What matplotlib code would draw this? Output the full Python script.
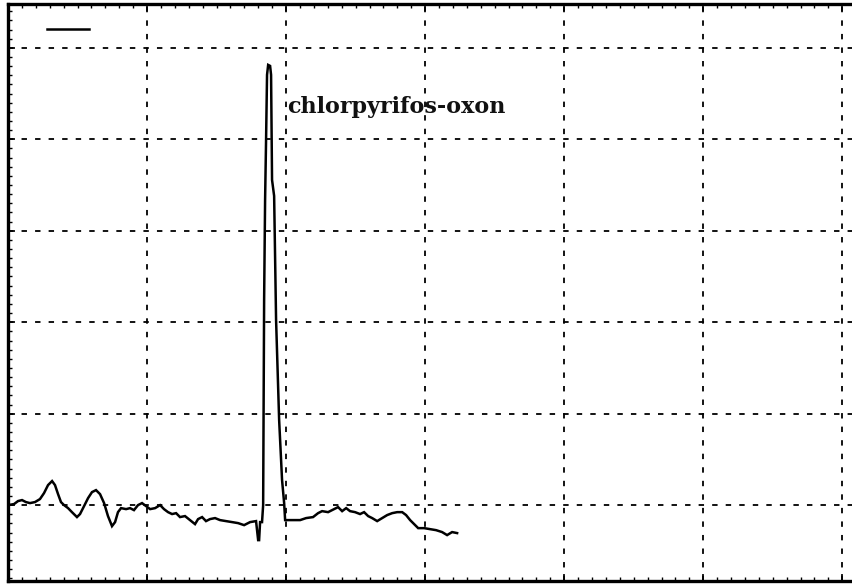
import numpy as np
import matplotlib
matplotlib.use('Agg')
import matplotlib.pyplot as plt
from matplotlib.ticker import MultipleLocator

# retention time (grid units) and detector response (grid units)
t=[0.000,0.043,0.072,0.101,0.129,0.158,0.194,0.230,0.259,0.288,
   0.317,0.338,0.360,0.381,0.403,0.432,0.460,0.496,0.518,0.547,
   0.576,0.604,0.633,0.662,0.691,0.719,0.748,0.770,0.791,0.813,
   0.849,0.878,0.906,0.935,0.964,0.993,1.022,1.058,1.094,1.122,
   1.151,1.180,1.209,1.237,1.273,1.309,1.345,1.367,1.396,1.424,
   1.453,1.489,1.525,1.568,1.612,1.655,1.698,1.741,1.784,1.799,
   1.806,1.813,1.827,1.835,1.842,1.849,1.856,1.863,1.871,1.885,
   1.892,1.899,1.914,1.928,1.950,1.971,1.986,1.993,2.043,2.101,
   2.144,2.194,2.230,2.259,2.302,2.345,2.374,2.403,2.432,2.460,
   2.496,2.532,2.561,2.590,2.619,2.655,2.691,2.727,2.763,2.799,
   2.835,2.863,2.892,2.921,2.950,2.993,3.036,3.079,3.122,3.158,
   3.194,3.230]
resp=[0.000,0.011,0.044,0.055,0.033,0.022,0.033,0.066,0.131,0.219,
      0.263,0.219,0.120,0.033,0.000,-0.033,-0.077,-0.131,-0.098,-0.011,
      0.077,0.142,0.164,0.120,0.022,-0.120,-0.230,-0.186,-0.077,-0.033,
      -0.044,-0.033,-0.055,0.000,0.022,-0.011,-0.044,-0.033,0.000,-0.044,
      -0.077,-0.098,-0.088,-0.131,-0.120,-0.164,-0.208,-0.153,-0.131,-0.175,
      -0.153,-0.142,-0.164,-0.175,-0.186,-0.197,-0.219,-0.186,-0.175,-0.383,
      -0.383,-0.186,-0.186,0.000,2.243,3.337,3.993,4.705,4.814,4.803,
      4.705,3.556,3.381,2.024,0.930,0.274,0.022,-0.164,-0.164,-0.164,
      -0.142,-0.131,-0.088,-0.066,-0.077,-0.044,-0.022,-0.066,-0.033,-0.066,
      -0.077,-0.098,-0.077,-0.120,-0.142,-0.175,-0.142,-0.109,-0.088,-0.077,
      -0.077,-0.109,-0.164,-0.208,-0.252,-0.252,-0.263,-0.274,-0.295,-0.328,
      -0.295,-0.306]

peak_name='chlorpyrifos-oxon'
peak_label_xy=(2.007,4.355)

fig=plt.figure(figsize=(8.52,5.87),dpi=100)
ax=fig.add_axes([8/852,6/587,844/852,577/587])

ln,=ax.plot(t,resp,color='black',linewidth=1.8,solid_joinstyle='miter')
ax.text(peak_label_xy[0],peak_label_xy[1],peak_name,fontsize=16,fontweight='bold',
        family='DejaVu Serif',ha='left',va='center',color='#111111')

ax.set_xlim(0,6.07)
ax.set_ylim(-0.83,5.48)
ax.xaxis.set_major_locator(MultipleLocator(1))
ax.yaxis.set_major_locator(MultipleLocator(1))
ax.xaxis.set_minor_locator(MultipleLocator(0.1))
ax.yaxis.set_minor_locator(MultipleLocator(0.1))
ax.tick_params(which='both',direction='in',labelbottom=False,labelleft=False,
               top=True,right=False,color='black')
ax.tick_params(which='major',length=5,width=1.2)
ax.tick_params(which='minor',length=3,width=1.0)
ax.grid(True,which='major',color='black',linestyle=(0,(3,4.5)),linewidth=1.3)

for s in ['left','bottom','top']:
    ax.spines[s].set_linewidth(2.4)
ax.spines['right'].set_visible(False)

ax.legend([ln],[''],loc='upper left',bbox_to_anchor=(39/844,1-19/577),
          frameon=False,borderpad=0,borderaxespad=0,handlelength=3.0,handletextpad=0)

plt.savefig('out.png',dpi=100)
